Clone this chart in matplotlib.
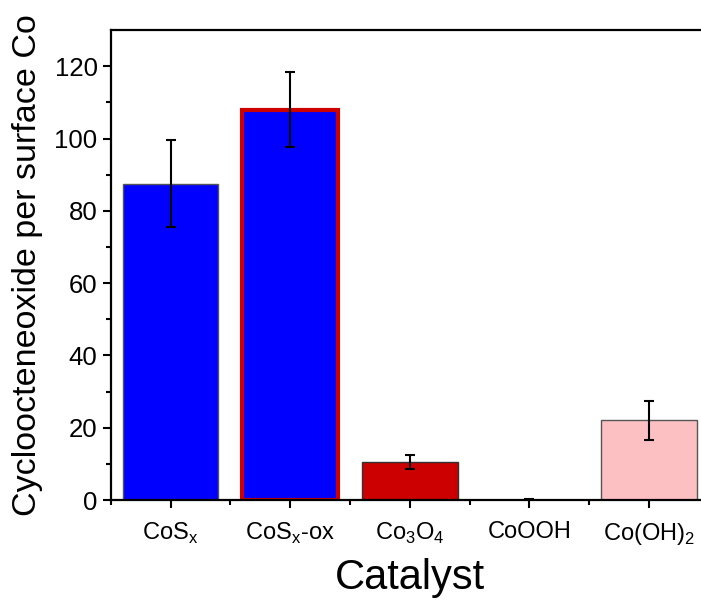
import matplotlib.pyplot as plt
import numpy as np

plt.rcParams['font.family'] = ['Liberation Sans', 'DejaVu Sans']
plt.rcParams['mathtext.fontset'] = 'custom'
plt.rcParams['mathtext.rm'] = 'Liberation Sans'

catalysts = ['CoS$_\\mathregular{x}$', 'CoS$_\\mathregular{x}$-ox', 'Co$_\\mathregular{3}$O$_\\mathregular{4}$',
             'CoOOH', 'Co(OH)$_\\mathregular{2}$']
yields = [87.5, 108.0, 10.5, 0.0, 22.0]
errors = [12.1, 10.3, 2.0, 0.4, 5.5]

fill_colors = ['#0000ff', '#0000ff', '#cc0000', '#ffffff', '#fdc0c2']
edge_colors = ['#555555', '#cc0000', '#333333', '#555555', '#555555']
edge_widths = [1.0, 3.0, 1.0, 1.0, 1.0]

fig = plt.figure(figsize=(7.01, 6.02), dpi=100)
ax = fig.add_axes([0.158, 0.1694, 0.853, 0.7806])

x = np.arange(1, len(yields) + 1)
ax.bar(x, yields, width=0.8, color=fill_colors, edgecolor=edge_colors,
       linewidth=edge_widths, zorder=2)
ax.errorbar(x, yields, yerr=errors, fmt='none', ecolor='black',
            elinewidth=1.5, capsize=3.5, capthick=1.5, zorder=3)

ax.set_xlim(0.5, 5.5)
ax.set_ylim(0, 130)
ax.set_yticks([0, 20, 40, 60, 80, 100, 120])
ax.set_yticks(np.arange(10, 130, 20), minor=True)
ax.set_xticks(x)
ax.set_xticks(np.arange(0.5, 6.0, 1.0), minor=True)
ax.set_xticklabels(catalysts, fontsize=17)
ax.tick_params(axis='y', labelsize=18.5)
ax.tick_params(which='major', direction='out', length=6, width=1.5)
ax.tick_params(which='minor', direction='out', length=3.5, width=1.5)
ax.tick_params(axis='x', pad=9)

for side in ['left', 'bottom', 'top', 'right']:
    ax.spines[side].set_linewidth(1.6)

ax.set_xlabel('Catalyst', fontsize=30, labelpad=8)
ax.set_ylabel('Cycloocteneoxide per surface Co', fontsize=24.5, labelpad=8)

fig.savefig('out.png', dpi=100)
